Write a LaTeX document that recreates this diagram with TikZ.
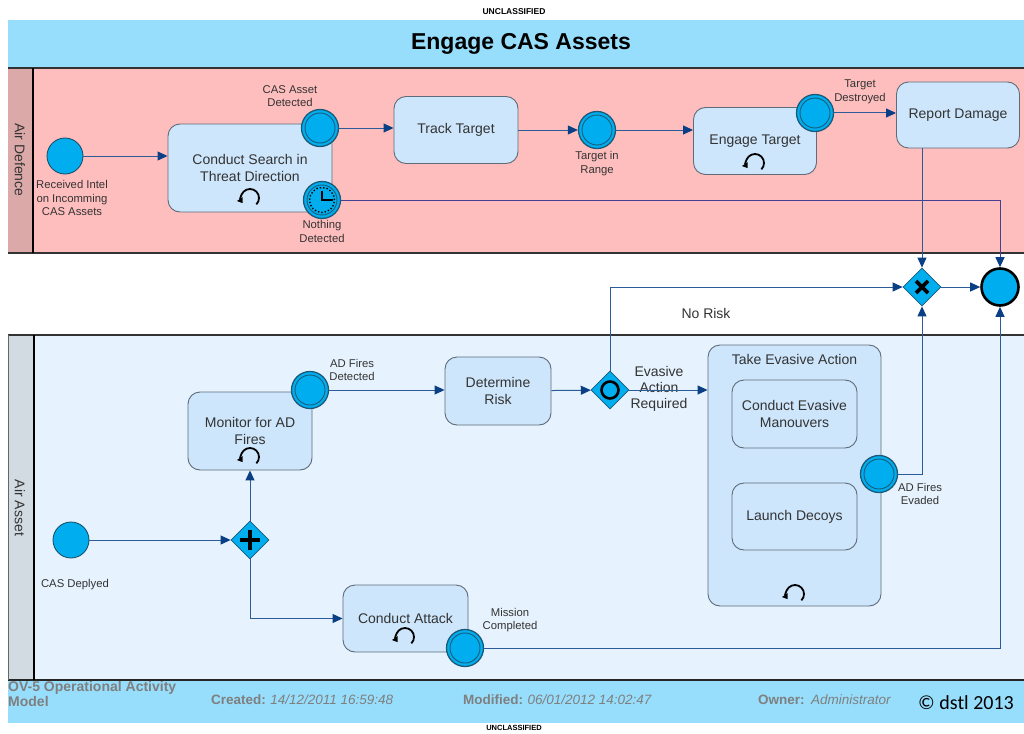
\documentclass[tikz,border=0pt]{standalone}
\usepackage{fontspec}
\setmainfont{Liberation Sans}
\newfontfamily\calibri{Carlito}
\usetikzlibrary{arrows.meta,positioning,shapes.geometric}
\definecolor{bandblue}{HTML}{97DEFC}
\definecolor{adlane}{HTML}{FFBEBE}
\definecolor{adstrip}{HTML}{DCA9A9}
\definecolor{aalane}{HTML}{E6F2FD}
\definecolor{aastrip}{HTML}{D2DAE2}
\definecolor{taskfill}{HTML}{CDE6FC}
\definecolor{taskline}{HTML}{5F6B78}
\definecolor{evfill}{HTML}{00AEEF}
\definecolor{evline}{HTML}{1A5A78}
\definecolor{flowline}{HTML}{2C5B9A}
\definecolor{flowtip}{HTML}{0B3F85}
\definecolor{txt}{HTML}{333333}
\definecolor{footgray}{HTML}{7F7F7F}

\tikzset{
  loopmark/.pic={
    \draw[line width=1.8pt, -{Triangle[length=5pt, width=6.5pt]}]
      (-45:9pt) arc[start angle=-45, end angle=215, radius=9pt];
  }
}

\begin{document}
\begin{tikzpicture}[x=1pt, y=-1pt, text=txt,
  task/.style={draw=taskline, line width=0.9pt, fill=taskfill, rounded corners=12pt,
    align=center, font=\fontsize{14}{16.5}\selectfont, inner sep=2pt},
  startev/.style={circle, draw=evline!80!black, line width=0.8pt, fill=evfill,
    minimum size=36pt, inner sep=0pt},
  catchev/.style={circle, draw=evline, line width=1.3pt, fill=evfill,
    minimum size=37pt, inner sep=0pt,
    path picture={\draw[evline, line width=0.9pt] (path picture bounding box.center) circle[radius=15pt];}},
  timerev/.style={catchev,
    path picture={
      \draw[evline, line width=0.9pt] (path picture bounding box.center) circle[radius=15pt];
      \draw[black, line width=1.4pt, dotted] (path picture bounding box.center) circle[radius=12.5pt];
      \draw[black, line width=1.2pt] ([shift={(0pt,9pt)}]path picture bounding box.center)
        -- (path picture bounding box.center) -- ++(11pt,0pt);}},
  endev/.style={circle, draw=black, line width=2.6pt, fill=evfill,
    minimum size=37pt, inner sep=0pt},
  gateway/.style={diamond, draw=evline, line width=0.8pt, fill=evfill,
    minimum width=38pt, minimum height=38pt, inner sep=0pt},
  xorgate/.style={gateway,
    path picture={\draw[black, line width=3.6pt]
      ([shift={(-6pt,-6pt)}]path picture bounding box.center) -- ++(12pt,12pt)
      ([shift={(-6pt,6pt)}]path picture bounding box.center) -- ++(12pt,-12pt);}},
  andgate/.style={gateway,
    path picture={\draw[black, line width=4pt]
      ([shift={(-10pt,0pt)}]path picture bounding box.center) -- ++(20pt,0pt)
      ([shift={(0pt,-10pt)}]path picture bounding box.center) -- ++(0pt,20pt);}},
  eventgate/.style={gateway,
    path picture={\draw[black, line width=2.6pt]
      (path picture bounding box.center) circle[radius=8.5pt];}},
  evlabel/.style={align=center, font=\fontsize{11.3}{13.5}\selectfont, inner sep=1pt},
  flow/.style={draw=flowline, line width=1pt,
    -{Triangle[length=10pt, width=9pt, color=flowtip]}},
  footlbl/.style={anchor=west, font=\bfseries\fontsize{13.5}{15}\selectfont, text=footgray, inner sep=0pt},
  footval/.style={font=\itshape\fontsize{13.5}{15}\selectfont, text=footgray, inner sep=0pt}]

  % page and banner
  \fill[white] (0,0) rectangle (1024,733);
  \useasboundingbox (0,0) rectangle (1024,733);
  \node[font=\bfseries\fontsize{8.5}{9}\selectfont, text=black] (classtop) at (514,12) {UNCLASSIFIED};
  \fill[bandblue] (8,20) rectangle (1024,68);
  \node[font=\bfseries\fontsize{23}{25}\selectfont, text=black] (title) at (521,44) {Engage CAS Assets};

  % footer
  \fill[bandblue] (8,680) rectangle (1024,723);
  \node[footlbl, align=left, font=\bfseries\fontsize{14}{15.5}\selectfont] (ov5) at (8,694) {OV-5 Operational Activity\\Model};
  \node[footlbl] (created) at (211,700) {Created:};
  \node[footval, right=4pt of created] {14/12/2011 16:59:48};
  \node[footlbl] (modified) at (463,700) {Modified:};
  \node[footval, right=4pt of modified] {06/01/2012 14:02:47};
  \node[footlbl] (owner) at (758,700) {Owner:};
  \node[footval, right=6pt of owner] {Administrator};
  \node[anchor=west, font=\calibri\fontsize{20}{22}\selectfont, text=black, inner sep=0pt] (copy) at (918,703) {© dstl 2013};
  \node[font=\bfseries\fontsize{7.5}{8}\selectfont, text=black] (classbot) at (514,728) {UNCLASSIFIED};

  % swim lanes
  \fill[adlane] (8,68) rectangle (1024,253);
  \fill[adstrip] (8,68) rectangle (33,253);
  \draw[black!80, line width=1.6pt] (8,68) -- (1024,68) (8,253) -- (1024,253);
  \draw[black, line width=2pt] (33,68) -- (33,253);
  \node[rotate=-90, font=\fontsize{14}{16}\selectfont] (adname) at (20,160) {Air Defence};

  \fill[aalane] (8,335) rectangle (1024,680);
  \fill[aastrip] (8,335) rectangle (34,680);
  \draw[black!80, line width=1.6pt] (8,335) -- (1024,335);
  \draw[black!85, line width=2.2pt] (8,680) -- (1024,680);
  \draw[black, line width=2pt] (34,335) -- (34,680);
  \draw[black!60, line width=0.6pt] (8,335) -- (8,680);
  \node[rotate=-90, font=\fontsize{14}{16}\selectfont] (aaname) at (20,508) {Air Asset};

  % Air Defence activities
  \node[task, minimum width=164pt, minimum height=88pt] (search) at (250,168) {Conduct Search in\\Threat Direction};
  \pic at (250,198) {loopmark};
  \node[task, minimum width=124pt, minimum height=67pt] (track) at (456,130) {Track Target};
  \node[task, minimum width=123pt, minimum height=67pt] (engage) at (755,141) {Engage Target};
  \pic at (755,163) {loopmark};
  \node[task, minimum width=123pt, minimum height=66pt] (report) at (958,115) {Report Damage};

  \node[startev] (intel) at (65,156) {};
  \node[evlabel, below=5pt of intel, xshift=7pt] {Received Intel\\on Incomming\\CAS Assets};
  \node[catchev] (detected) at (320,128) {};
  \node[evlabel, above=1pt of detected, xshift=-30pt] {CAS Asset\\Detected};
  \node[timerev] (nothing) at (322,200) {};
  \node[evlabel, below=0pt of nothing] {Nothing\\Detected};
  \node[catchev] (inrange) at (597,130) {};
  \node[evlabel, below=1pt of inrange] {Target in\\Range};
  \node[catchev] (destroyed) at (815,113) {};
  \node[evlabel] (destroyedlbl) at (860,92) {Target\\Destroyed};

  % merge and end
  \node[xorgate] (xorgw) at (922,287) {};
  \node[endev] (finish) at (1000,287) {};

  % Air Asset activities
  \node[startev] (deployed) at (71,540) {};
  \node[evlabel] (deployedlbl) at (75,585) {CAS Deplyed};
  \node[andgate] (andgw) at (250,540) {};
  \node[task, minimum width=124pt, minimum height=78pt] (monitor) at (250,431) {Monitor for AD\\Fires};
  \pic at (250,457) {loopmark};
  \node[catchev] (adfires) at (310,390) {};
  \node[evlabel] (adfireslbl) at (352,370) {AD Fires\\Detected};
  \node[task, minimum width=106pt, minimum height=68pt] (determine) at (498,391) {Determine\\Risk};
  \node[eventgate] (evgw) at (610,390) {};
  \node[align=center, font=\fontsize{14}{16}\selectfont, inner sep=0pt] (evasivelbl) at (659,389) {Evasive\\Action\\Required};
  \node[font=\fontsize{14}{16}\selectfont] (norisk) at (706,313) {No Risk};

  \node[task, minimum width=173pt, minimum height=261pt] (evasive) at (794.5,475.5) {};
  \node[font=\fontsize{14}{16}\selectfont, below=6pt of evasive.north] (evasivetitle) {Take Evasive Action};
  \node[task, minimum width=125pt, minimum height=68pt] (manoeuvres) at (794.5,414) {Conduct Evasive\\Manouvers};
  \node[task, minimum width=125pt, minimum height=67pt] (decoys) at (794.5,516.5) {Launch Decoys};
  \pic at (795,594) {loopmark};
  \node[catchev] (evaded) at (879,474) {};
  \node[evlabel] (evadedlbl) at (920,494) {AD Fires\\Evaded};

  \node[task, minimum width=125pt, minimum height=67pt] (attack) at (405.5,618.5) {Conduct Attack};
  \pic at (405,637) {loopmark};
  \node[catchev] (mission) at (465,648) {};
  \node[evlabel] (missionlbl) at (510,620) {Mission\\Completed};

  % sequence flows
  \draw[flow] (intel.east) -- (intel.east -| search.west);
  \draw[flow] (detected.east) -- (detected -| track.west);
  \draw[flow] (track) -- (inrange);
  \draw[flow] (inrange.east) -- (inrange -| engage.west);
  \draw[flow] (destroyed.east) -- (destroyed -| report.west);
  \draw[flow, draw=flowline!70!violet] (nothing.east) -| (finish.north);
  \draw[flow] (report.south -| xorgw) -- (xorgw.north);
  \draw[flow] (xorgw) -- (finish);
  \draw[flow] (evgw.north) |- (xorgw.west);
  \draw[flow] (deployed) -- (andgw);
  \draw[flow] (andgw) -- (monitor);
  \draw[flow] (andgw.south) |- (attack.west);
  \draw[flow] (adfires.east) -- (adfires -| determine.west);
  \draw[flow] (determine) -- (evgw);
  \draw[flow] (evgw.east) -- (evgw -| evasive.west);
  \draw[flow] (evaded.east) -| (xorgw.south);
  \draw[flow] (mission.east) -| (finish.south);
\end{tikzpicture}
\end{document}
